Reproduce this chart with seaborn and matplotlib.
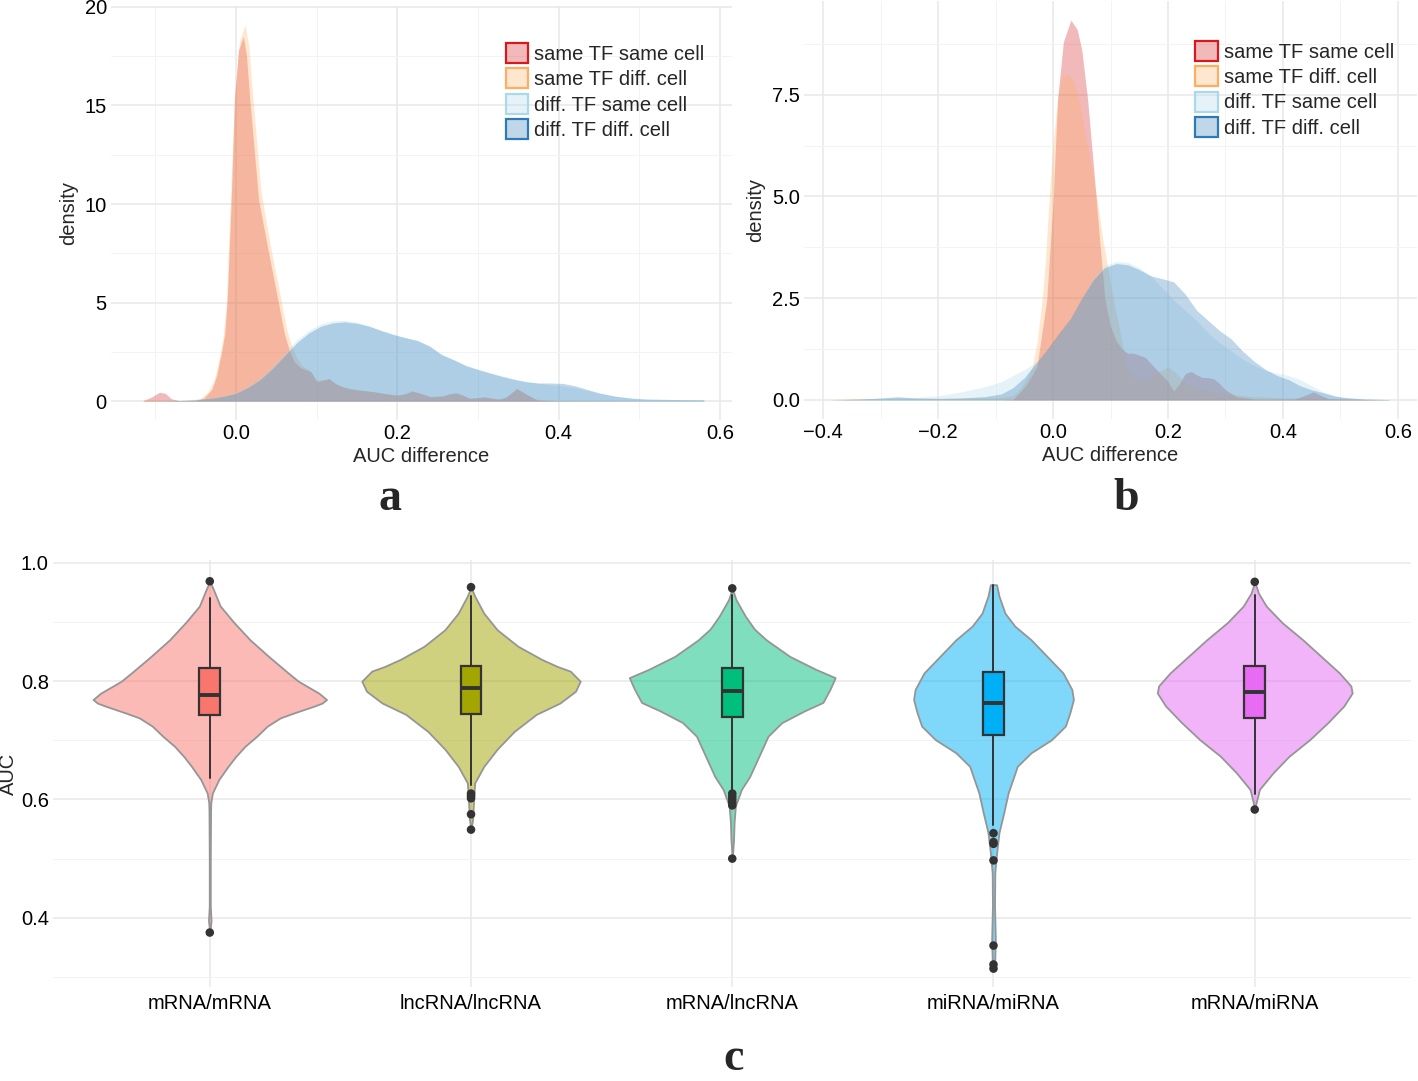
import matplotlib
matplotlib.use("Agg")
import matplotlib.pyplot as plt
from matplotlib.patches import Patch
from matplotlib.ticker import MultipleLocator
import pandas as pd
import seaborn as sns

# ---------------- panel a : AUC difference densities ----------------
group_names = ["same TF same cell", "same TF diff. cell", "diff. TF same cell", "diff. TF diff. cell"]

a_sssc_x = [-0.115, -0.105, -0.095, -0.088, -0.08, -0.07, -0.05, -0.04, -0.03, -0.024, -0.018, -0.014,
            -0.011, -0.006, -0.002, 0.003, 0.009, 0.013, 0.017, 0.028, 0.04, 0.052, 0.06, 0.066, 0.072,
            0.08, 0.086, 0.093, 0.1, 0.107, 0.115, 0.123, 0.132, 0.142, 0.152, 0.162, 0.172, 0.185, 0.2,
            0.21, 0.218, 0.228, 0.241, 0.255, 0.265, 0.273, 0.281, 0.29, 0.3, 0.308, 0.316, 0.325, 0.335,
            0.348, 0.36, 0.374, 0.39, 0.42, 0.5, 0.58]
a_sssc_y = [0.03, 0.2, 0.45, 0.4, 0.12, 0.02, 0.03, 0.15, 0.6, 1.3, 2.5, 3.4,
            5.1, 10.2, 15.3, 17.8, 18.5, 17.5, 15.3, 10.2, 7.6, 5.1, 3.4, 2.6, 2.0,
            1.7, 1.6, 1.5, 1.0, 1.05, 1.15, 0.9, 0.73, 0.62, 0.56, 0.52, 0.47, 0.38, 0.3,
            0.38, 0.52, 0.4, 0.22, 0.25, 0.38, 0.42, 0.3, 0.14, 0.18, 0.22, 0.15, 0.1, 0.2,
            0.64, 0.35, 0.05, 0.02, 0.01, 0.005, 0.003]

a_stdc_x = [-0.115, -0.1, -0.08, -0.06, -0.045, -0.035, -0.027, -0.02, -0.016, -0.012, -0.007,
            -0.002, 0.004, 0.011, 0.016, 0.02, 0.031, 0.043, 0.055, 0.063, 0.069, 0.075, 0.082,
            0.09, 0.1, 0.108, 0.116, 0.125, 0.135, 0.15, 0.17, 0.19, 0.205, 0.22, 0.24, 0.26, 0.275,
            0.29, 0.31, 0.33, 0.348, 0.37, 0.4, 0.5, 0.58]
a_stdc_y = [0.1, 0.04, 0.02, 0.03, 0.12, 0.45, 1.1, 2.3, 3.3, 5.0, 10.2,
            15.3, 18.2, 19.1, 18.0, 15.8, 10.6, 7.8, 5.3, 3.6, 2.8, 2.2, 1.8,
            1.6, 1.05, 1.1, 1.1, 0.85, 0.7, 0.58, 0.48, 0.35, 0.3, 0.5, 0.25, 0.3, 0.4,
            0.15, 0.2, 0.1, 0.6, 0.1, 0.03, 0.01, 0.005]

a_dtsc_x = [-0.115, -0.09, -0.07, -0.05, -0.03, -0.015, 0.0, 0.015, 0.03, 0.045, 0.06, 0.075, 0.09,
            0.105, 0.12, 0.135, 0.15, 0.165, 0.18, 0.195, 0.21, 0.225, 0.24, 0.255, 0.27, 0.285, 0.3,
            0.315, 0.33, 0.345, 0.36, 0.375, 0.39, 0.405, 0.42, 0.435, 0.45, 0.47, 0.49, 0.51, 0.53,
            0.55, 0.58]
a_dtsc_y = [0.0, 0.02, 0.05, 0.1, 0.2, 0.3, 0.45, 0.78, 1.2, 1.78, 2.45, 3.1, 3.58,
            3.92, 4.08, 4.1, 4.0, 3.82, 3.6, 3.4, 3.22, 3.05, 2.75, 2.4, 2.08, 1.82, 1.62,
            1.45, 1.28, 1.13, 1.0, 0.9, 0.82, 0.78, 0.68, 0.55, 0.4, 0.26, 0.16, 0.11, 0.09,
            0.08, 0.07]

a_dtdc_x = a_dtsc_x
a_dtdc_y = [0.0, 0.01, 0.03, 0.07, 0.15, 0.25, 0.4, 0.7, 1.1, 1.65, 2.3, 2.95, 3.45,
            3.8, 3.97, 4.02, 3.95, 3.8, 3.58, 3.38, 3.22, 3.08, 2.8, 2.35, 2.1, 1.8, 1.6,
            1.42, 1.25, 1.1, 0.98, 0.92, 0.92, 0.9, 0.78, 0.6, 0.42, 0.25, 0.15, 0.1, 0.09,
            0.08, 0.07]

# ---------------- panel b ----------------
b_sssc_x = [-0.385, -0.2, -0.09, -0.07, -0.06, -0.045, -0.028, -0.011, 0.0, 0.008, 0.018, 0.031,
            0.042, 0.05, 0.06, 0.07, 0.08, 0.09, 0.1, 0.11, 0.12, 0.13, 0.14, 0.15, 0.16, 0.17, 0.18,
            0.19, 0.2, 0.21, 0.22, 0.23, 0.24, 0.25, 0.26, 0.27, 0.28, 0.29, 0.3, 0.32, 0.35, 0.42,
            0.44, 0.453, 0.465, 0.48, 0.585]
b_sssc_y = [0.0, 0.0, 0.0, 0.01, 0.15, 0.4, 0.82, 2.46, 4.9, 7.4, 8.8, 9.33,
            9.1, 8.6, 7.4, 5.8, 4.1, 2.5, 1.8, 1.45, 1.25, 1.15, 1.15, 1.1, 1.05, 0.9, 0.75,
            0.6, 0.45, 0.22, 0.4, 0.65, 0.7, 0.62, 0.55, 0.55, 0.52, 0.4, 0.25, 0.08, 0.02, 0.02,
            0.12, 0.2, 0.12, 0.03, 0.0]

b_stdc_x = [-0.385, -0.35, -0.3, -0.25, -0.2, -0.15, -0.1, -0.07, -0.055, -0.045, -0.036, -0.028,
            -0.019, -0.013, -0.007, 0.0, 0.008, 0.016, 0.025, 0.034, 0.045, 0.055, 0.066, 0.077,
            0.086, 0.095, 0.105, 0.117, 0.128, 0.14, 0.155, 0.17, 0.185, 0.2, 0.215, 0.23, 0.25, 0.27,
            0.3, 0.35, 0.4, 0.45, 0.5, 0.585]
b_stdc_y = [0.01, 0.04, 0.02, 0.03, 0.03, 0.05, 0.05, 0.1, 0.3, 0.55, 0.82, 1.4,
            2.46, 3.5, 4.9, 6.3, 7.4, 7.95, 8.0, 7.9, 7.4, 6.6, 5.8, 4.9,
            4.0, 3.28, 2.46, 1.64, 0.82, 0.55, 0.5, 0.55, 0.7, 0.82, 0.65, 0.4, 0.3, 0.22,
            0.15, 0.08, 0.05, 0.05, 0.02, 0.0]

b_dt_x = [-0.385, -0.34, -0.3, -0.27, -0.24, -0.2, -0.16, -0.12, -0.09, -0.07, -0.05, -0.03, -0.01,
          0.01, 0.03, 0.05, 0.07, 0.09, 0.11, 0.13, 0.15, 0.17, 0.19, 0.21, 0.23, 0.25, 0.27, 0.29,
          0.31, 0.33, 0.35, 0.37, 0.39, 0.41, 0.43, 0.45, 0.47, 0.49, 0.51, 0.54, 0.585]
b_dtsc_y = [0.0, 0.02, 0.04, 0.06, 0.06, 0.1, 0.2, 0.32, 0.45, 0.6, 0.75, 0.92, 1.2,
            1.6, 2.0, 2.5, 3.0, 3.3, 3.4, 3.38, 3.25, 3.05, 2.75, 2.45, 2.2, 1.95, 1.65, 1.4,
            1.2, 1.0, 0.85, 0.72, 0.66, 0.6, 0.5, 0.35, 0.2, 0.1, 0.05, 0.02, 0.01]
b_dtdc_y = [0.0, 0.02, 0.05, 0.08, 0.05, 0.04, 0.05, 0.08, 0.15, 0.3, 0.55, 0.9, 1.25,
            1.64, 2.0, 2.5, 2.95, 3.25, 3.35, 3.32, 3.2, 3.05, 2.98, 2.9, 2.6, 2.2, 1.95, 1.7,
            1.5, 1.2, 0.95, 0.75, 0.6, 0.5, 0.35, 0.25, 0.18, 0.1, 0.06, 0.03, 0.01]

# ---------------- panel c : AUC violins ----------------
pair_types = ["mRNA/mRNA", "lncRNA/lncRNA", "mRNA/lncRNA", "miRNA/miRNA", "mRNA/miRNA"]

# violin outline: AUC level and half-width (as read, in category units)
v1_auc = [0.969, 0.955, 0.927, 0.899, 0.870, 0.842, 0.814, 0.800, 0.792, 0.780, 0.769, 0.763, 0.758,
          0.752, 0.746, 0.738, 0.724, 0.707, 0.690, 0.673, 0.656, 0.634, 0.611, 0.595, 0.58, 0.5,
          0.42, 0.395, 0.375]
v1_w = [0.0, 0.014, 0.040, 0.093, 0.154, 0.225, 0.300, 0.339, 0.370, 0.417, 0.447, 0.430, 0.400,
        0.360, 0.320, 0.270, 0.220, 0.180, 0.135, 0.100, 0.070, 0.035, 0.010, 0.004, 0.003, 0.002,
        0.002, 0.005, 0.0]
v2_auc = [0.959, 0.944, 0.915, 0.887, 0.859, 0.837, 0.825, 0.817, 0.800, 0.783, 0.763, 0.744, 0.715,
          0.685, 0.656, 0.628, 0.600, 0.566, 0.549]
v2_w = [0.0, 0.014, 0.049, 0.100, 0.180, 0.270, 0.330, 0.380, 0.418, 0.400, 0.340, 0.250, 0.165,
        0.100, 0.049, 0.014, 0.010, 0.006, 0.0]
v3_auc = [0.957, 0.938, 0.910, 0.888, 0.870, 0.842, 0.820, 0.806, 0.787, 0.764, 0.750, 0.730, 0.707,
          0.673, 0.639, 0.617, 0.589, 0.561, 0.532, 0.50]
v3_w = [0.0, 0.014, 0.050, 0.085, 0.130, 0.220, 0.320, 0.394, 0.375, 0.347, 0.277, 0.190, 0.137,
        0.102, 0.067, 0.035, 0.012, 0.007, 0.005, 0.0]
v4_auc = [0.9635, 0.963, 0.944, 0.915, 0.893, 0.870, 0.842, 0.814, 0.786, 0.769, 0.746, 0.724, 0.701,
          0.679, 0.656, 0.634, 0.611, 0.577, 0.544, 0.510, 0.476, 0.420, 0.363, 0.33, 0.312]
v4_w = [0.0, 0.012, 0.021, 0.044, 0.082, 0.144, 0.205, 0.266, 0.300, 0.306, 0.292, 0.275, 0.222,
        0.144, 0.091, 0.074, 0.056, 0.039, 0.021, 0.012, 0.005, 0.004, 0.007, 0.005, 0.0]
v5_auc = [0.968, 0.949, 0.927, 0.899, 0.870, 0.842, 0.814, 0.792, 0.780, 0.758, 0.730, 0.701, 0.673,
          0.645, 0.617, 0.594, 0.583]
v5_w = [0.0, 0.014, 0.044, 0.105, 0.184, 0.254, 0.324, 0.368, 0.373, 0.341, 0.280, 0.210, 0.131,
        0.070, 0.018, 0.005, 0.0]

# box summaries
whisker_low = [0.637, 0.625, 0.614, 0.556, 0.610]
quart_1 = [0.742, 0.745, 0.739, 0.709, 0.738]
medians = [0.777, 0.789, 0.784, 0.763, 0.782]
quart_3 = [0.822, 0.826, 0.822, 0.815, 0.825]
whisker_high = [0.941, 0.944, 0.946, 0.963, 0.946]
outliers = [[0.969, 0.375],
            [0.959, 0.610, 0.606, 0.602, 0.575, 0.549],
            [0.957, 0.610, 0.605, 0.600, 0.595, 0.590, 0.500],
            [0.543, 0.528, 0.525, 0.497, 0.353, 0.321, 0.314],
            [0.968, 0.583]]

# ---------------- styling ----------------
sns.set_theme(style="whitegrid")
plt.rcParams["font.family"] = ["Liberation Sans", "DejaVu Sans"]
plt.rcParams["axes.unicode_minus"] = True

edge_cols = ["#d7191c", "#fdae61", "#abd9e9", "#2c7bb6"]
hue_cols = ["#F8766D", "#A3A500", "#00BF7D", "#00B0F6", "#E76BF3"]
FS = 14.5


def minimal_axes(ax):
    ax.set_facecolor("white")
    for s in ax.spines.values():
        s.set_visible(False)
    ax.grid(which="major", color="#e8e8e8", lw=1.1)
    ax.grid(which="minor", color="#f3f3f3", lw=0.7)
    ax.tick_params(which="both", length=0, labelsize=FS, colors="black", pad=3)
    ax.set_axisbelow(True)


fig = plt.figure(figsize=(14.18, 10.81), dpi=100)

ax_a = fig.add_axes([0.0783, 0.6115, 0.438, 0.383])
ax_b = fig.add_axes([0.567, 0.6124, 0.4323, 0.3867])
ax_c = fig.add_axes([0.0374, 0.087, 0.958, 0.395])

panel_a = [(a_sssc_x, a_sssc_y), (a_stdc_x, a_stdc_y), (a_dtsc_x, a_dtsc_y), (a_dtdc_x, a_dtdc_y)]
panel_b = [(b_sssc_x, b_sssc_y), (b_stdc_x, b_stdc_y), (b_dt_x, b_dtsc_y), (b_dt_x, b_dtdc_y)]

for ax, series in [(ax_a, panel_a), (ax_b, panel_b)]:
    minimal_axes(ax)
    for (x, y), col in zip(series, edge_cols):
        ax.fill_between(x, y, 0, color=col, alpha=0.3, lw=0)
    ax.set_xlabel("AUC difference", fontsize=FS, labelpad=3)
    ax.set_ylabel("density", fontsize=FS, labelpad=5)
    handles = [Patch(facecolor=matplotlib.colors.to_rgba(c, 0.3), edgecolor=c, lw=1.6) for c in edge_cols]
    ax.legend(handles, group_names, fontsize=FS, frameon=False, handlelength=1.1, handleheight=1.15,
              handletextpad=0.3, labelspacing=0.22, borderpad=0, borderaxespad=0,
              loc="upper left",
              bbox_to_anchor=(0.357, 0.960) if ax is ax_a else (0.843, 0.962),
              bbox_transform=fig.transFigure)

ax_a.set_xlim(-0.155, 0.615)
ax_a.set_ylim(-0.955, 20.05)
ax_a.xaxis.set_major_locator(MultipleLocator(0.2))
ax_a.xaxis.set_minor_locator(MultipleLocator(0.1))
ax_a.yaxis.set_major_locator(MultipleLocator(5))
ax_a.yaxis.set_minor_locator(MultipleLocator(2.5))
ax_a.xaxis.set_major_formatter(matplotlib.ticker.FormatStrFormatter("%.1f"))
ax_a.yaxis.set_major_formatter(matplotlib.ticker.FormatStrFormatter("%d"))

ax_b.set_xlim(-0.4335, 0.6335)
ax_b.set_ylim(-0.467, 9.8)
ax_b.xaxis.set_major_locator(MultipleLocator(0.2))
ax_b.xaxis.set_minor_locator(MultipleLocator(0.1))
ax_b.yaxis.set_major_locator(MultipleLocator(2.5))
ax_b.yaxis.set_minor_locator(MultipleLocator(1.25))
ax_b.xaxis.set_major_formatter(matplotlib.ticker.FuncFormatter(lambda v, p: f"{v:.1f}".replace("-", "\u2212")))
ax_b.yaxis.set_major_formatter(matplotlib.ticker.FormatStrFormatter("%.1f"))

# violins
minimal_axes(ax_c)
violins = [(v1_auc, v1_w), (v2_auc, v2_w), (v3_auc, v3_w), (v4_auc, v4_w), (v5_auc, v5_w)]
for i, ((yy, ww), col) in enumerate(zip(violins, hue_cols)):
    ax_c.fill_betweenx(yy, [i - w for w in ww], [i + w for w in ww],
                       facecolor=matplotlib.colors.to_rgba(col, 0.5), edgecolor="#959595", lw=1.3, zorder=2)

stats = [dict(whislo=whisker_low[i], q1=quart_1[i], med=medians[i], q3=quart_3[i],
              whishi=whisker_high[i], fliers=[]) for i in range(5)]
bp = ax_c.bxp(stats, positions=range(5), widths=0.08, patch_artist=True, showcaps=False,
              showfliers=False, manage_ticks=False,
              boxprops=dict(edgecolor="#333333", lw=1.6),
              whiskerprops=dict(color="#333333", lw=1.4),
              medianprops=dict(color="#333333", lw=2.8))
for patch, col in zip(bp["boxes"], hue_cols):
    patch.set_facecolor(col)
    patch.set_zorder(3)
for ln in bp["whiskers"] + bp["medians"]:
    ln.set_zorder(3)

out_df = pd.DataFrame([(i, v) for i, vals in enumerate(outliers) for v in vals], columns=["pos", "AUC"])
sns.scatterplot(data=out_df, x="pos", y="AUC", ax=ax_c, color="#333333", s=38, edgecolor="none", zorder=4)

ax_c.set_xlim(-0.6, 4.6)
ax_c.set_ylim(0.283, 1.005)
ax_c.set_xticks(range(5))
ax_c.set_xticklabels(pair_types)
ax_c.yaxis.set_major_locator(MultipleLocator(0.2))
ax_c.yaxis.set_minor_locator(MultipleLocator(0.1))
ax_c.yaxis.set_major_formatter(matplotlib.ticker.FormatStrFormatter("%.1f"))
ax_c.grid(which="minor", axis="x", visible=False)
ax_c.set_xlabel("")
ax_c.set_ylabel("AUC", fontsize=FS, labelpad=2)
ax_c.tick_params(axis="x", pad=5)

for lab, x, y, va in [("a", 0.275, 0.528, "baseline"), ("b", 0.794, 0.528, "baseline"),
                      ("c", 0.517, 0.001, "bottom")]:
    fig.text(x, y, lab, fontsize=33, fontweight="bold", family="Liberation Serif", ha="center", va=va)

fig.savefig("out.png", dpi=100, facecolor="white")
